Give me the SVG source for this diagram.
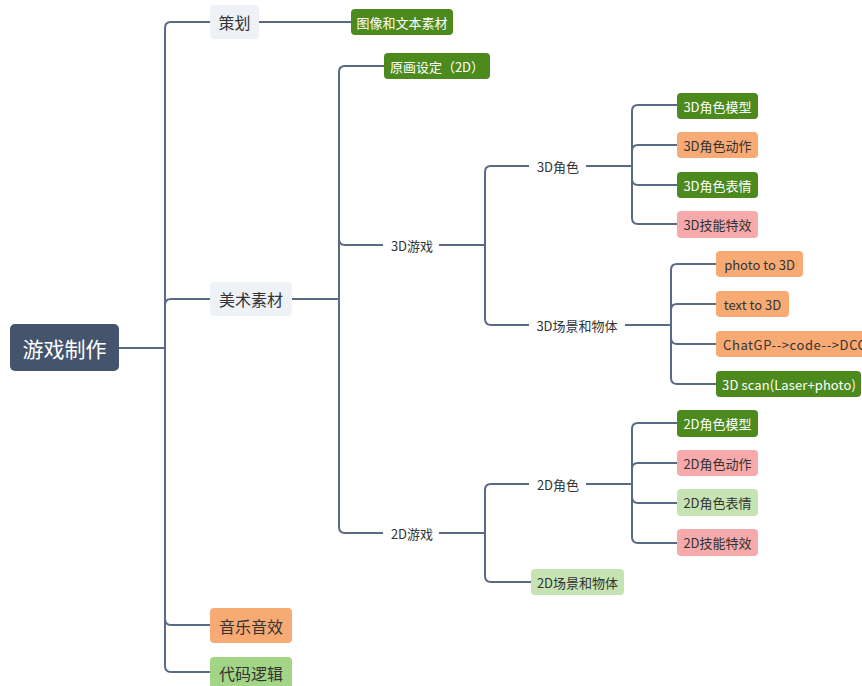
<svg xmlns="http://www.w3.org/2000/svg" width="862" height="686" viewBox="0 0 862 686">
<style>
text{font-family:"Noto Sans CJK SC","Noto Sans",sans-serif;text-anchor:middle;dominant-baseline:central}
.c path{fill:none;stroke:#5a6a85;stroke-width:2}
.root rect{fill:#44546c}
.root text{fill:#fff;font-size:21px}
.l1 text{font-size:16px;fill:#333}
.lt{fill:#eef2f7}
.or{fill:#f7aa74}
.gr{fill:#4d8a1e}
.pk{fill:#f6aaab}
.lg{fill:#c6e4b3}
.mg{fill:#a3d586}
.s text{font-size:13px;fill:#333}
.s text.w{fill:#fff}
.lab{font-size:13px;fill:#333}
</style>
<rect width="862" height="686" fill="#fff"/>
<g class="c">
<path d="M118,348H165V28Q165,22 171,22H210"/>
<path d="M165,348V305Q165,299 171,299H210"/>
<path d="M165,348V619Q165,625 171,625H210"/>
<path d="M165,348V666Q165,672 171,672H210"/>
<path d="M259,22H351"/>
<path d="M292,299H339V72Q339,66 345,66H384"/>
<path d="M339,299V239Q339,245 345,245H383"/>
<path d="M339,299V527Q339,533 345,533H383"/>
<path d="M439,245H485V172Q485,166 491,166H529"/>
<path d="M485,245V319Q485,325 491,325H529"/>
<path d="M586,166H632V111Q632,105 638,105H677"/>
<path d="M632,166V151Q632,145 638,145H677"/>
<path d="M632,166V179Q632,185 638,185H677"/>
<path d="M632,166V218Q632,224 638,224H677"/>
<path d="M625,325H671V270Q671,264 677,264H716"/>
<path d="M671,325V310Q671,304 677,304H716"/>
<path d="M671,325V338Q671,344 677,344H716"/>
<path d="M671,325V378Q671,384 677,384H716"/>
<path d="M439,533H485V490Q485,484 491,484H529"/>
<path d="M485,533V576Q485,582 491,582H531"/>
<path d="M586,484H632V429Q632,423 638,423H677"/>
<path d="M632,484V469Q632,463 638,463H677"/>
<path d="M632,484V497Q632,503 638,503H677"/>
<path d="M632,484V537Q632,543 638,543H677"/>
</g>
<g id="root" class="root"><rect x="10" y="324" width="109" height="47" rx="5"/><text x="64.5" y="347.5">游戏制作</text></g>
<g id="cehua" class="l1"><rect class="lt" x="210" y="5" width="49" height="34" rx="4"/><text x="234.5" y="22">策划</text></g>
<g id="meishu" class="l1"><rect class="lt" x="210" y="282" width="82" height="34" rx="4"/><text x="251" y="299">美术素材</text></g>
<g id="yinyue" class="l1"><rect class="or" x="210" y="608" width="82" height="35" rx="4"/><text x="251" y="625.5">音乐音效</text></g>
<g id="daima" class="l1"><rect class="mg" x="210" y="657" width="82" height="35" rx="4"/><text x="251" y="673">代码逻辑</text></g>
<g id="tuxiang" class="s"><rect class="gr" x="351" y="9" width="102" height="26" rx="4"/><text class="w" x="402" y="22">图像和文本素材</text></g>
<g id="yuanhua" class="s"><rect class="gr" x="384" y="53" width="106" height="26" rx="4"/><text class="w" x="437" y="66">原画设定（2D）</text></g>
<g id="g3d"><text class="lab" x="412" y="245">3D游戏</text></g>
<g id="g2d"><text class="lab" x="412" y="533">2D游戏</text></g>
<g id="js3d"><text class="lab" x="558" y="166">3D角色</text></g>
<g id="cj3d"><text class="lab" x="577" y="325">3D场景和物体</text></g>
<g id="js2d"><text class="lab" x="558" y="484">2D角色</text></g>
<g id="m3d1" class="s"><rect class="gr" x="677" y="93" width="81" height="26" rx="4"/><text class="w" x="717.5" y="106">3D角色模型</text></g>
<g id="m3d2" class="s"><rect class="or" x="677" y="132" width="81" height="26" rx="4"/><text x="717.5" y="145">3D角色动作</text></g>
<g id="m3d3" class="s"><rect class="gr" x="677" y="172" width="81" height="26" rx="4"/><text class="w" x="717.5" y="185">3D角色表情</text></g>
<g id="m3d4" class="s"><rect class="pk" x="677" y="211" width="81" height="27" rx="4"/><text x="717.5" y="224.5">3D技能特效</text></g>
<g id="c1" class="s"><rect class="or" x="716" y="251" width="87" height="26" rx="4"/><text x="759.5" y="264">photo to 3D</text></g>
<g id="c2" class="s"><rect class="or" x="716" y="291" width="73" height="26" rx="4"/><text x="752.5" y="304">text to 3D</text></g>
<g id="c3" class="s"><rect class="or" x="716" y="331" width="170" height="26" rx="4"/><text x="723" y="344" style="text-anchor:start;letter-spacing:0.6px">ChatGP--&gt;code--&gt;DCC</text></g>
<g id="c4" class="s"><rect class="gr" x="716" y="371" width="145" height="26" rx="4"/><text class="w" x="789" y="384" style="letter-spacing:0.1px">3D scan(Laser+photo)</text></g>
<g id="m2d1" class="s"><rect class="gr" x="677" y="410" width="81" height="27" rx="4"/><text class="w" x="717.5" y="423.5">2D角色模型</text></g>
<g id="m2d2" class="s"><rect class="pk" x="677" y="450" width="81" height="26" rx="4"/><text x="717.5" y="463">2D角色动作</text></g>
<g id="m2d3" class="s"><rect class="lg" x="677" y="489" width="81" height="27" rx="4"/><text x="717.5" y="502.5">2D角色表情</text></g>
<g id="m2d4" class="s"><rect class="pk" x="677" y="529" width="81" height="27" rx="4"/><text x="717.5" y="542.5">2D技能特效</text></g>
<g id="cj2d" class="s"><rect class="lg" x="531" y="569" width="93" height="26" rx="4"/><text x="577.5" y="582">2D场景和物体</text></g>
</svg>
